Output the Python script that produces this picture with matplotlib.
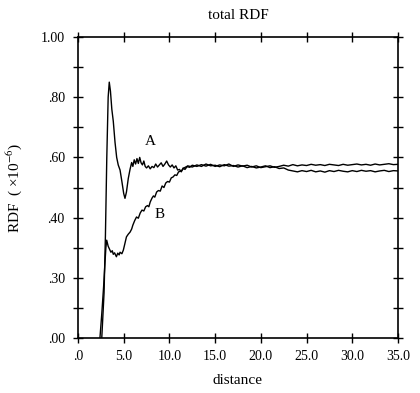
import matplotlib
matplotlib.use('Agg')
import matplotlib.pyplot as plt

# curve A (sharp first peak)
dist_a = [2.60, 2.85, 3.00, 3.15, 3.30, 3.42, 3.55, 3.70, 3.86, 4.05, 4.23, 4.40, 4.60,
          4.80, 5.00, 5.14, 5.30, 5.50, 5.69, 5.87, 6.00, 6.15, 6.30, 6.45, 6.60, 6.75,
          6.90, 7.05, 7.20, 7.35, 7.50, 7.70, 7.90, 8.10, 8.30, 8.50, 8.70, 8.90, 9.10,
          9.30, 9.50, 9.70, 9.90, 10.10, 10.30, 10.50, 10.70, 10.90, 11.10, 11.30, 11.50,
          11.70, 12.0, 12.5, 13.0, 13.5, 14.0, 14.5, 15.0, 15.5, 16.0, 16.5, 17.0, 17.5,
          18.0, 18.5, 19.0, 19.5, 20.0, 20.5, 21.0, 21.5, 22.0, 22.5, 23.0, 23.5, 24.0,
          24.5, 25.0, 25.5, 26.0, 26.5, 27.0, 27.5, 28.0, 28.5, 29.0, 29.5, 30.0, 30.5,
          31.0, 31.5, 32.0, 32.5, 33.0, 33.5, 34.0, 34.5, 35.0]
rdf_a = [0.000, 0.150, 0.340, 0.600, 0.800, 0.850, 0.820, 0.760, 0.720, 0.650, 0.600, 0.575, 0.558,
         0.520, 0.480, 0.464, 0.485, 0.530, 0.560, 0.583, 0.570, 0.592, 0.578, 0.596, 0.580, 0.600,
         0.582, 0.575, 0.588, 0.570, 0.565, 0.572, 0.562, 0.570, 0.566, 0.578, 0.568, 0.575, 0.582,
         0.570, 0.578, 0.588, 0.575, 0.568, 0.575, 0.565, 0.572, 0.558, 0.560, 0.552, 0.565,
         0.560, 0.572, 0.568, 0.575, 0.570, 0.578, 0.572, 0.574, 0.569, 0.576, 0.571, 0.573, 0.568,
         0.572, 0.566, 0.570, 0.565, 0.568, 0.572, 0.566, 0.569, 0.563, 0.565, 0.558, 0.555, 0.552,
         0.556, 0.553, 0.557, 0.552, 0.555, 0.551, 0.556, 0.553, 0.557, 0.554, 0.552, 0.556, 0.553,
         0.557, 0.554, 0.556, 0.552, 0.555, 0.557, 0.553, 0.556, 0.555]

# curve B (slow rise)
dist_b = [2.40, 2.60, 2.80, 2.95, 3.05, 3.14, 3.30, 3.45, 3.60, 3.75, 3.86, 4.00, 4.20,
          4.35, 4.50, 4.60, 4.80, 4.96, 5.10, 5.30, 5.50, 5.70, 5.87, 6.00, 6.20, 6.40,
          6.60, 6.80, 7.00, 7.20, 7.40, 7.60, 7.75, 7.90, 8.10, 8.25, 8.40, 8.60, 8.80,
          9.00, 9.20, 9.40, 9.60, 9.80, 10.00, 10.20, 10.40, 10.60, 10.80, 11.00, 11.30,
          11.60, 11.90, 12.20, 12.5, 13.0, 13.5, 14.0, 14.5, 15.0, 15.5, 16.0, 16.5, 17.0,
          17.5, 18.0, 18.5, 19.0, 19.5, 20.0, 20.5, 21.0, 21.5, 22.0, 22.5, 23.0, 23.5,
          24.0, 24.5, 25.0, 25.5, 26.0, 26.5, 27.0, 27.5, 28.0, 28.5, 29.0, 29.5, 30.0,
          30.5, 31.0, 31.5, 32.0, 32.5, 33.0, 33.5, 34.0, 34.5, 35.0]
rdf_b = [0.000, 0.080, 0.170, 0.250, 0.300, 0.325, 0.305, 0.295, 0.285, 0.290, 0.278, 0.283, 0.270,
         0.282, 0.276, 0.285, 0.280, 0.292, 0.310, 0.336, 0.345, 0.352, 0.362, 0.375, 0.390, 0.402,
         0.398, 0.415, 0.425, 0.422, 0.436, 0.440, 0.436, 0.452, 0.465, 0.472, 0.468, 0.485, 0.490,
         0.488, 0.505, 0.500, 0.515, 0.520, 0.518, 0.532, 0.535, 0.542, 0.540, 0.552, 0.555,
         0.565, 0.570, 0.567, 0.574, 0.570, 0.576, 0.571, 0.577, 0.570, 0.575, 0.572, 0.578, 0.570,
         0.575, 0.571, 0.574, 0.568, 0.572, 0.566, 0.569, 0.572, 0.567, 0.570, 0.574, 0.571, 0.576,
         0.572, 0.575, 0.573, 0.577, 0.574, 0.576, 0.573, 0.577, 0.575, 0.573, 0.577, 0.574, 0.576,
         0.578, 0.575, 0.577, 0.574, 0.578, 0.575, 0.577, 0.579, 0.576, 0.577]

x_ticks = [0, 5, 10, 15, 20, 25, 30, 35]
x_labels = ['.0', '5.0', '10.0', '15.0', '20.0', '25.0', '30.0', '35.0']
y_ticks = [0.0, 0.2, 0.4, 0.6, 0.8, 1.0]
y_labels = ['.00', '.30', '.40', '.60', '.80', '1.00']

plt.rcParams['font.family'] = ['Liberation Serif', 'DejaVu Serif']
plt.rcParams['mathtext.fontset'] = 'stix'

fig = plt.figure(figsize=(4.2, 3.93), dpi=100)
ax = fig.add_axes([0.1857, 0.1399, 0.7619, 0.766])

ax.plot(dist_a, rdf_a, color='black', linewidth=1.0)
ax.plot(dist_b, rdf_b, color='black', linewidth=1.0)

ax.text(7.9, 0.652, 'A', fontsize=11, ha='center', va='center')
ax.text(8.97, 0.409, 'B', fontsize=11, ha='center', va='center')

ax.set_xlim(0, 35)
ax.set_ylim(0, 1.0)
ax.set_xticks(x_ticks)
ax.set_xticklabels(x_labels)
ax.set_yticks(y_ticks)
ax.set_yticklabels(y_labels)
ax.set_yticks([0.1, 0.3, 0.5, 0.7, 0.9], minor=True)

ax.tick_params(which='both', direction='inout', length=7, width=1.0,
               top=True, right=True, labelsize=10)
ax.tick_params(axis='x', pad=5)
ax.tick_params(axis='y', pad=6)
for s in ax.spines.values():
    s.set_linewidth(1.2)

ax.set_title('total RDF', fontsize=11, pad=13)
ax.set_xlabel('distance', fontsize=11, labelpad=8)
ax.set_ylabel('RDF  ( ×10$^{-6}$)', fontsize=11, labelpad=12)

fig.savefig('out.png', dpi=100)
